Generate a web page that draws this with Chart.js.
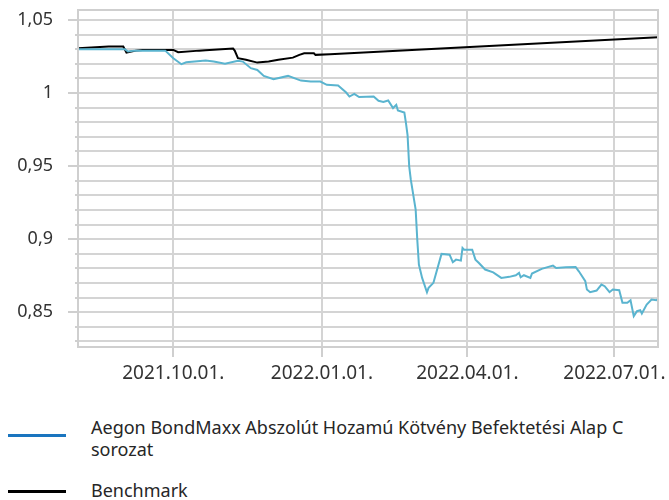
<!DOCTYPE html>
<html>
<head>
<meta charset="utf-8">
<script src="https://cdn.jsdelivr.net/npm/chart.js@4.4.1/dist/chart.umd.min.js"></script>
<style>
  body { margin: 0; background: #fff; font-family: "Noto Sans", sans-serif; }
  #wrap { position: relative; width: 669px; height: 500px; }
  #box { position: absolute; left: 0; top: 0; width: 669px; height: 385px; }
  .leg { position: absolute; left: 91px; width: 566px; font-size: 18px; line-height: 22px; color: #262626; }
  .sw { position: absolute; left: 8px; width: 58px; height: 3px; }
</style>
</head>
<body>
<div id="wrap">
  <div id="box"><canvas id="chart"></canvas></div>
  <div class="sw" style="top:434px;background:#1a75bf"></div>
  <div class="leg" style="top:416px">Aegon BondMaxx Abszolút Hozamú Kötvény Befektetési Alap C sorozat</div>
  <div class="sw" style="top:490px;background:#000"></div>
  <div class="leg" style="top:479px">Benchmark</div>
</div>
<script>
// ── Data ────────────────────────────────────────────────────────────────────
const fundDates = [
  '2021-08-03', '2021-09-01', '2021-09-03', '2021-09-07', '2021-09-26', '2021-10-01',
  '2021-10-06', '2021-10-09', '2021-10-21', '2021-10-26', '2021-11-02', '2021-11-10',
  '2021-11-13', '2021-11-18', '2021-11-22', '2021-11-26', '2021-12-02', '2021-12-11',
  '2021-12-19', '2021-12-25', '2021-12-31', '2022-01-04', '2022-01-11', '2022-01-16',
  '2022-01-18', '2022-01-21', '2022-01-24', '2022-02-02', '2022-02-05', '2022-02-08',
  '2022-02-11', '2022-02-14', '2022-02-16', '2022-02-17', '2022-02-21', '2022-02-22',
  '2022-02-23', '2022-02-24', '2022-02-25', '2022-02-28', '2022-03-01', '2022-03-02',
  '2022-03-04', '2022-03-07', '2022-03-08', '2022-03-11', '2022-03-16', '2022-03-21',
  '2022-03-23', '2022-03-25', '2022-03-28', '2022-03-29', '2022-03-30', '2022-04-04',
  '2022-04-06', '2022-04-08', '2022-04-12', '2022-04-17', '2022-04-22', '2022-04-27',
  '2022-05-01', '2022-05-03', '2022-05-04', '2022-05-06', '2022-05-10', '2022-05-11',
  '2022-05-17', '2022-05-24', '2022-05-26', '2022-06-01', '2022-06-07', '2022-06-09',
  '2022-06-13', '2022-06-14', '2022-06-16', '2022-06-20', '2022-06-23', '2022-06-25',
  '2022-06-28', '2022-06-30', '2022-07-04', '2022-07-06', '2022-07-09', '2022-07-11',
  '2022-07-13', '2022-07-15', '2022-07-17', '2022-07-18', '2022-07-21', '2022-07-24',
  '2022-07-27', '2022-07-28'
];
const fundValues = [
  1.0300, 1.0300, 1.0284, 1.0290, 1.0290, 1.0238,
  1.0197, 1.0210, 1.0222, 1.0215, 1.0200, 1.0220,
  1.0215, 1.0170, 1.0158, 1.0117, 1.0095, 1.0117,
  1.0085, 1.0078, 1.0078, 1.0056, 1.0051, 1.0003,
  0.9976, 0.9994, 0.9972, 0.9976, 0.9947, 0.9938,
  0.9949, 0.9897, 0.9919, 0.9880, 0.9866, 0.9794,
  0.9710, 0.9498, 0.9407, 0.9202, 0.8997, 0.8826,
  0.8735, 0.8637, 0.8667, 0.8701, 0.8899, 0.8894,
  0.8842, 0.8860, 0.8853, 0.8940, 0.8928, 0.8928,
  0.8860, 0.8838, 0.8792, 0.8773, 0.8735, 0.8742,
  0.8753, 0.8769, 0.8739, 0.8753, 0.8735, 0.8765,
  0.8797, 0.8819, 0.8803, 0.8808, 0.8810, 0.8780,
  0.8712, 0.8655, 0.8637, 0.8648, 0.8689, 0.8678,
  0.8637, 0.8655, 0.8651, 0.8564, 0.8564, 0.8582,
  0.8473, 0.8507, 0.8514, 0.8491, 0.8553, 0.8587,
  0.8582, 0.8591
];
const benchDates = [
  '2021-08-03', '2021-08-22', '2021-08-31', '2021-09-02', '2021-09-05', '2021-09-08',
  '2021-09-12', '2021-10-01', '2021-10-04', '2021-10-17', '2021-10-21', '2021-11-07',
  '2021-11-08', '2021-11-10', '2021-11-15', '2021-11-22', '2021-11-29', '2021-12-05',
  '2021-12-14', '2021-12-18', '2021-12-21', '2021-12-27', '2021-12-28', '2022-01-06',
  '2022-07-28'
];
const benchValues = [
  1.0306, 1.0318, 1.0318, 1.0277, 1.0284, 1.0290,
  1.0295, 1.0295, 1.0279, 1.0290, 1.0292, 1.0304,
  1.0290, 1.0238, 1.0227, 1.0208, 1.0215, 1.0227,
  1.0242, 1.0261, 1.0272, 1.0272, 1.0261, 1.0266,
  1.0382
];
const xTickDates = ['2021-10-01', '2022-01-01', '2022-04-01', '2022-07-01'];
const yGridValues = [0.83, 0.84, 0.85, 0.86, 0.87, 0.88, 0.89, 0.90, 0.91, 0.92, 0.93, 0.94,
  0.95, 0.96, 0.97, 0.98, 0.99, 1.00, 1.01, 1.02, 1.03, 1.04, 1.05];
const yLabelValues = [0.85, 0.90, 0.95, 1.00, 1.05];

const dayNum = s => {
  const [y, m, d] = s.split('-').map(Number);
  return Date.UTC(y, m - 1, d) / 86400000;
};
const fmtDate = n => {
  const d = new Date(n * 86400000);
  const p = v => String(v).padStart(2, '0');
  return `${d.getUTCFullYear()}.${p(d.getUTCMonth() + 1)}.${p(d.getUTCDate())}.`;
};
const isLabel = v => yLabelValues.some(l => Math.abs(l - v) < 1e-6);

const frame = {
  id: 'frame',
  afterDraw(chart) {
    const { ctx, chartArea: a, scales } = chart;
    ctx.save();
    ctx.strokeStyle = '#cfcfcf';
    ctx.lineWidth = 2;
    ctx.strokeRect(a.left, a.top, a.right - a.left, a.bottom - a.top);
    // short stubs for the minor y ticks
    yGridValues.forEach(v => {
      if (isLabel(v)) return;
      const y = Math.round(scales.y.getPixelForValue(v));
      ctx.beginPath();
      ctx.moveTo(a.left - 3, y);
      ctx.lineTo(a.left, y);
      ctx.stroke();
    });
    ctx.restore();
  }
};

new Chart(document.getElementById('chart'), {
  type: 'line',
  data: {
    datasets: [
      {
        label: 'Aegon BondMaxx Abszolút Hozamú Kötvény Befektetési Alap C sorozat',
        data: fundDates.map((d, i) => ({ x: dayNum(d), y: fundValues[i] })),
        borderColor: '#5ab4cf',
        borderWidth: 2,
        pointRadius: 0,
        tension: 0,
      },
      {
        label: 'Benchmark',
        data: benchDates.map((d, i) => ({ x: dayNum(d), y: benchValues[i] })),
        borderColor: '#000000',
        borderWidth: 2,
        pointRadius: 0,
        tension: 0,
      },
    ],
  },
  options: {
    responsive: true,
    maintainAspectRatio: false,
    animation: false,
    layout: { padding: { top: 10, right: 11, left: 0, bottom: 0 } },
    plugins: { legend: { display: false }, tooltip: { enabled: false } },
    scales: {
      x: {
        type: 'linear',
        min: dayNum('2021-08-03'),
        max: dayNum('2022-07-28'),
        afterBuildTicks: s => { s.ticks = xTickDates.map(d => ({ value: dayNum(d) })); },
        afterFit: s => { s.height = 38; s.paddingLeft = 0; s.paddingRight = 0; },
        grid: { color: '#d4d4d4', lineWidth: 2, tickLength: 10, tickColor: '#cfcfcf' },
        border: { display: false },
        ticks: {
          autoSkip: false,
          maxRotation: 0,
          padding: 5,
          color: '#333',
          font: { family: 'Noto Sans', size: 19 },
          callback: v => fmtDate(v),
        },
      },
      y: {
        min: 0.8262,
        max: 1.0568,
        afterBuildTicks: s => { s.ticks = yGridValues.map(v => ({ value: v })); },
        afterFit: s => { s.width = 78; s.paddingTop = 0; s.paddingBottom = 0; },
        grid: {
          color: '#d4d4d4',
          lineWidth: 2,
          tickLength: 10,
          tickColor: c => (c.tick && isLabel(c.tick.value)) ? '#cfcfcf' : 'rgba(0,0,0,0)',
        },
        border: { display: false },
        ticks: {
          autoSkip: false,
          padding: 15,
          color: '#333',
          font: { family: 'Noto Sans', size: 18 },
          callback: v => isLabel(v) ? String(Number(v.toFixed(2))).replace('.', ',') : '',
        },
      },
    },
  },
  plugins: [frame],
});
</script>
</body>
</html>
